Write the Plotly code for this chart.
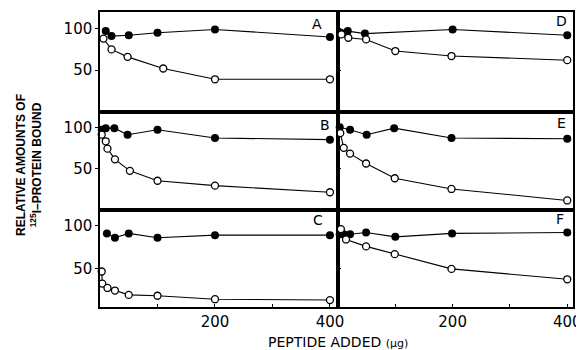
import plotly.graph_objects as go

# ---- data (peptide added, ug ; relative amount bound) ----
A_filled_x = [10, 20, 50, 100, 200, 400]
A_filled_y = [97, 91, 92, 95, 99, 90]
A_open_x = [6, 20, 48, 110, 200, 400]
A_open_y = [88, 75, 66, 52, 39, 39]

B_filled_x = [3, 10, 25, 48, 100, 200, 400]
B_filled_y = [97, 99, 99, 91, 97, 87, 85]
B_open_x = [3, 10, 13, 26, 52, 100, 200, 400]
B_open_y = [91, 83, 74, 61, 47, 35, 29, 21]

C_filled_x = [12, 26, 50, 100, 200, 400]
C_filled_y = [91, 86, 91, 86, 89, 89]
C_open_x = [3, 4, 13, 26, 50, 100, 200, 400]
C_open_y = [47, 33, 28, 25, 20, 19, 15, 14]

D_filled_x = [5, 17, 47, 200, 400]
D_filled_y = [95, 97, 94, 99, 92]
D_open_x = [6, 18, 49, 100, 198, 400]
D_open_y = [93, 89, 87, 73, 67, 62]

E_filled_x = [3, 21, 50, 98, 198, 400]
E_filled_y = [100, 97, 91, 99, 87, 86]
E_open_x = [4, 10, 21, 49, 99, 198, 400]
E_open_y = [93, 75, 68, 56, 38, 25, 11]

F_filled_x = [3, 10, 21, 49, 100, 199, 400]
F_filled_y = [90, 90, 90, 92, 87, 91, 92]
F_open_x = [5, 14, 49, 99, 198, 400]
F_open_y = [96, 84, 76, 67, 50, 38]

panel_letters = ["A", "D", "B", "E", "C", "F"]
y_tick_vals = [50, 100]
y_tick_text = ["50", "100"]
x_tick_vals = [200, 400]
x_tick_text = ["200", "400"]
x_minor_vals = [100, 300]

panels = [
    (A_filled_x, A_filled_y, A_open_x, A_open_y),
    (D_filled_x, D_filled_y, D_open_x, D_open_y),
    (B_filled_x, B_filled_y, B_open_x, B_open_y),
    (E_filled_x, E_filled_y, E_open_x, E_open_y),
    (C_filled_x, C_filled_y, C_open_x, C_open_y),
    (F_filled_x, F_filled_y, F_open_x, F_open_y),
]

# ---- layout geometry (reference pixels; page body has an 8px margin) ----
OFF = 8
W, H = 584, 350
L, R, T, B = 100, 573, 12, 307
PW, PH = R - L, B - T
col_px = [(100, 338), (338, 573)]
row_px = [(12, 111.7), (111.7, 209.5), (209.5, 307)]
x_ranges = [[0, 414], [0, 410]]
y_ranges = [[0, 120], [0, 119], [6, 118.6]]


def px_x(p):
    return (p - L) / PW


def px_y(p):
    return (B - p) / PH


fig = go.Figure()
layout = dict(
    width=W, height=H,
    margin=dict(l=L - OFF, r=W - R + OFF, t=T - OFF, b=H - B + OFF,
                autoexpand=False),
    paper_bgcolor="white", plot_bgcolor="white",
    showlegend=False,
    font=dict(family="DejaVu Sans", color="black", size=15),
)

letter_pos = [(317, 24), (561, 21), (325, 125), (561, 123), (318, 220), (560, 219)]

for i, (fx, fy, ox, oy) in enumerate(panels):
    r, c = divmod(i, 2)
    n = i + 1
    xa = "x" if n == 1 else f"x{n}"
    ya = "y" if n == 1 else f"y{n}"
    fig.add_trace(go.Scatter(
        x=fx, y=fy, xaxis=xa, yaxis=ya, mode="lines+markers",
        line=dict(color="black", width=1.1),
        marker=dict(symbol="circle", size=8, color="black"),
        cliponaxis=False,
    ))
    fig.add_trace(go.Scatter(
        x=ox, y=oy, xaxis=xa, yaxis=ya, mode="lines+markers",
        line=dict(color="black", width=1.1),
        marker=dict(symbol="circle", size=7, color="white",
                    line=dict(color="black", width=1.3)),
        cliponaxis=False,
    ))
    bottom = (r == 2)
    xkey = "xaxis" if n == 1 else f"xaxis{n}"
    ykey = "yaxis" if n == 1 else f"yaxis{n}"
    xax = dict(
        domain=[px_x(col_px[c][0]), px_x(col_px[c][1])],
        anchor=ya, range=x_ranges[c],
        showline=True, mirror=True, linecolor="black", linewidth=1.5,
        showgrid=False, zeroline=False,
        showticklabels=bottom,
        tickfont=dict(size=15, family="DejaVu Sans"),
    )
    if bottom:
        xax.update(
            tickmode="array", tickvals=x_tick_vals, ticktext=x_tick_text,
            ticks="inside", ticklen=3, tickcolor="black",
            minor=dict(tickmode="array", tickvals=x_minor_vals,
                       ticks="inside", ticklen=3, tickcolor="black"),
        )
    else:
        xax.update(ticks="", tickmode="array", tickvals=x_tick_vals,
                   ticktext=x_tick_text)
    layout[xkey] = xax
    layout[ykey] = dict(
        domain=[px_y(row_px[r][1]), px_y(row_px[r][0])],
        anchor=xa, range=y_ranges[r],
        showline=True, mirror=True, linecolor="black", linewidth=1.5,
        showgrid=False, zeroline=False,
        tickmode="array", tickvals=y_tick_vals, ticktext=y_tick_text,
        ticks="outside" if c == 0 else "inside", ticklen=3, tickcolor="black",
        showticklabels=(c == 0),
        tickfont=dict(size=15, family="DejaVu Sans"),
    )

annotations = []
for letter, (lx, ly) in zip(panel_letters, letter_pos):
    annotations.append(dict(
        text=letter, x=px_x(lx), y=px_y(ly), xref="paper", yref="paper",
        showarrow=False, xanchor="center", yanchor="middle",
        font=dict(size=14, family="DejaVu Sans", color="black"),
    ))

annotations.append(dict(
    text="<b>RELATIVE AMOUNTS OF<br><sup>125</sup>I–PROTEIN BOUND</b>",
    x=px_x(29), y=px_y(165), xref="paper", yref="paper",
    showarrow=False, textangle=-90, xanchor="center", yanchor="middle",
    font=dict(size=12, family="Liberation Sans", color="black"),
))
annotations.append(dict(
    text="PEPTIDE ADDED <span style='font-size:11px'>(µg)</span>",
    x=px_x(338), y=px_y(342), xref="paper", yref="paper",
    showarrow=False, xanchor="center", yanchor="middle",
    font=dict(size=14, family="DejaVu Sans", color="black"),
))
layout["annotations"] = annotations

fig.update_layout(**layout)
fig.write_html("out.html")
